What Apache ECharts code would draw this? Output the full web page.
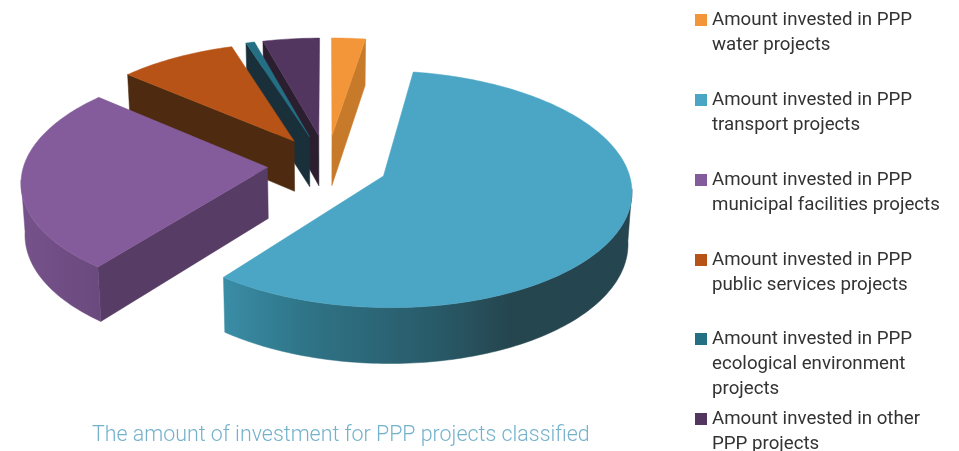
<!DOCTYPE html>
<html>
<head>
<meta charset="utf-8">
<style>html,body{margin:0;padding:0;background:#fff}#c{width:959px;height:451px}</style>
<script src="https://cdn.jsdelivr.net/npm/echarts@6/dist/echarts.min.js"></script>
</head>
<body>
<div id="c"></div>
<script>
// Data, clockwise from 12 o'clock
const categories = [
  'Amount invested in PPP\nwater projects',
  'Amount invested in PPP\ntransport projects',
  'Amount invested in PPP\nmunicipal facilities projects',
  'Amount invested in PPP\npublic services projects',
  'Amount invested in PPP\necological environment\nprojects',
  'Amount invested in other\nPPP projects'
];
const shares = [2.55, 57.95, 25.8, 8.8, 0.65, 4.25];
const chartTitle = 'The amount of investment for PPP projects classified';

// Styling
const topColors = ['#f39639', '#4ba6c6', '#855c9b', '#b75316', '#256f85', '#52365f'];
const cutColors = ['#c87a2b', '#2f6f82', '#573c65', '#4d2a10', '#19303a', '#2b1e2f'];
const wallStops = [
  ['#c87a2b', '#c87a2b'],
  ['#3a8da6', '#254550'],
  ['#76528b', '#6a4a7e'],
  ['#4d2a10', '#4d2a10'],
  ['#19303a', '#19303a'],
  ['#2b1e2f', '#2b1e2f']
];
const layers = [1, 6, 5, 4, 3, 2];
const legendFirstLine = [20, 100, 180, 260, 339, 419];
const explode = [0.26, 0.25, 0.245, 0.25, 0.26, 0.26];
const lineGap = 25;

// Projection of the pie plane on the screen
const cx = 327, cy = 164.5, R = 243.5, A = 114.4, K = 0.11, D = 51, KD = 0.08, XD = 0.987;
function project(U, V, drop) {
  const w = 1 + K * V;
  const x = R * U / w, y = cy - A * V / w;
  return drop ? [cx + x * XD, y + D / (1 + KD * V)] : [cx + x, y];
}
const total = shares.reduce((a, b) => a + b, 0);
const starts = [];
shares.reduce((acc, v, i) => { starts[i] = acc; return acc + v; }, 0);

function renderSlice(idx) {
  return function (params, api) {
    const value = api.value(0);
    const a0 = starts[idx] / total * 2 * Math.PI;
    const a1 = a0 + value / total * 2 * Math.PI;
    const mid = (a0 + a1) / 2;
    const ou = explode[idx] * Math.sin(mid), ov = explode[idx] * Math.cos(mid);
    const P = (r, a, drop) => project(ou + r * Math.sin(a), ov + r * Math.cos(a), drop);
    const arc = (from, to, drop) => {
      const pts = [], n = Math.max(2, Math.ceil((to - from) / 0.02));
      for (let i = 0; i <= n; i++) pts.push(P(1, from + (to - from) * i / n, drop));
      return pts;
    };
    const children = [];
    const poly = (points, fill) => children.push({
      type: 'polygon', shape: { points }, style: { fill, stroke: fill, lineWidth: 0.5 }
    });
    // cut faces that look towards the viewer
    if (Math.sin(a0) < 0) poly([P(0, a0), P(1, a0), P(1, a0, true), P(0, a0, true)], cutColors[idx]);
    if (Math.sin(a1) > 0) poly([P(0, a1), P(1, a1), P(1, a1, true), P(0, a1, true)], cutColors[idx]);
    // outer wall on the near half, up to the silhouette of the perspective ellipse
    const edge = Math.asin(K);
    const from = Math.max(a0, Math.PI / 2 + edge), to = Math.min(a1, 1.5 * Math.PI - edge);
    if (to > from) {
      const upper = arc(from, to, false), lower = arc(from, to, true).reverse();
      const all = upper.concat(lower), xs = all.map(p => p[0]);
      const left = Math.min.apply(null, xs), right = Math.max.apply(null, xs);
      const stops = idx === 1
        ? [{ offset: 0, color: '#3a8da6' }, { offset: 0.2, color: '#2f7487' }, { offset: 0.5, color: '#295c6b' },
           { offset: 0.7, color: '#25464f' }, { offset: 1, color: wallStops[idx][1] }]
        : [{ offset: 0, color: wallStops[idx][0] }, { offset: 1, color: wallStops[idx][1] }];
      poly(all, new echarts.graphic.LinearGradient(left, 0, right, 0, stops, true));
    }
    // top face
    poly([P(0, a0)].concat(arc(a0, a1, false)), topColors[idx]);
    return { type: 'group', children };
  };
}

const series = categories.map((name, i) => ({
  type: 'custom',
  name,
  coordinateSystem: 'none',
  z: layers[i],
  silent: true,
  animation: false,
  clip: false,
  itemStyle: { color: topColors[i] },
  data: [[shares[i]]],
  renderItem: renderSlice(i)
}));

// The legend centres its icon on the text block, so blank lines above the
// name put the icon level with the first line.
const legends = categories.map((name, i) => {
  const lines = name.split('\n').length;
  const blanks = lines - 1;
  return {
    data: [name],
    left: 695,
    top: legendFirstLine[i] - (blanks + lines) * lineGap / 2,
    padding: 0,
    itemWidth: 12,
    itemHeight: 12,
    itemGap: 5,
    icon: 'rect',
    selectedMode: false,
    formatter: t => ' \n'.repeat(blanks) + t,
    textStyle: {
      fontFamily: 'Roboto',
      fontSize: 18.7,
      lineHeight: lineGap,
      color: '#333333'
    }
  };
});

const chart = echarts.init(document.getElementById('c'), null, { renderer: 'canvas' });
chart.setOption({
  animation: false,
  backgroundColor: '#ffffff',
  title: {
    text: chartTitle, left: 92, top: 425, padding: 0,
    textStyle: { fontFamily: 'Roboto', fontWeight: 300, fontSize: 21.4, color: '#74b2cc' }
  },
  legend: legends,
  series
});
</script>
</body>
</html>
